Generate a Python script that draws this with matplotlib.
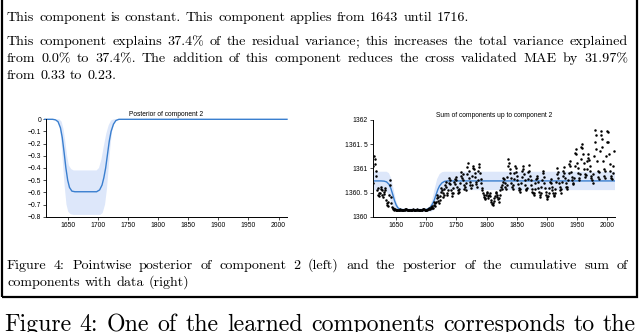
import numpy as np
import matplotlib
matplotlib.use('Agg')
import matplotlib.pyplot as plt
from matplotlib.patches import Rectangle

# ---- data ----
const_level = 1360.74

# posterior mean of component 2
comp_years = [1612, 1625, 1630, 1634, 1638, 1641, 1644, 1647, 1650, 1653, 1657, 1662,
              1698, 1703, 1707, 1710, 1713, 1716, 1719, 1722, 1726, 1730, 1735, 2014]
comp_mean = [0, 0, -0.005, -0.02, -0.07, -0.15, -0.27, -0.40, -0.50, -0.56, -0.59, -0.595,
             -0.595, -0.58, -0.54, -0.48, -0.40, -0.29, -0.18, -0.10, -0.04, -0.01, 0, 0]
# pointwise interval of component 2
comp_hi_years = [1612, 1636, 1640, 1643, 1646, 1649, 1652, 1656, 1660,
                 1698, 1702, 1706, 1710, 1714, 1718, 1722, 1727, 2014]
comp_hi = [0, 0, -0.02, -0.08, -0.18, -0.30, -0.38, -0.41, -0.42,
           -0.42, -0.40, -0.33, -0.22, -0.12, -0.05, -0.01, 0, 0]
comp_lo_years = [1612, 1632, 1636, 1639, 1642, 1645, 1648, 1651, 1655, 1660,
                 1704, 1708, 1712, 1715, 1718, 1721, 1724, 1728, 1733, 2014]
comp_lo = [0, 0, -0.04, -0.15, -0.35, -0.55, -0.70, -0.76, -0.78, -0.785,
           -0.785, -0.77, -0.70, -0.58, -0.40, -0.22, -0.09, -0.02, 0, 0]

# interval of the cumulative sum
sum_hi_years = [1611, 1634, 1638, 1642, 1646, 1650, 1654, 1658,
                1702, 1706, 1710, 1714, 1718, 1722, 1726, 1730, 2013]
sum_hi = [1360.93, 1360.93, 1360.90, 1360.78, 1360.55, 1360.32, 1360.20, 1360.17,
          1360.17, 1360.22, 1360.36, 1360.58, 1360.78, 1360.88, 1360.92, 1360.93, 1360.93]
sum_lo_years = [1611, 1630, 1634, 1638, 1642, 1646, 1650, 1655,
                1708, 1712, 1716, 1720, 1724, 1728, 1733, 2013]
sum_lo = [1360.55, 1360.55, 1360.52, 1360.43, 1360.28, 1360.16, 1360.11, 1360.10,
          1360.10, 1360.13, 1360.22, 1360.36, 1360.48, 1360.53, 1360.55, 1360.55]

# observed data (annual), 1611-2011
data_years = list(range(1611, 2012))
data_vals = [
    1360.70, 1361.05, 1361.25, 1361.20, 1361.10, 1360.95, 1360.85, 1360.55, 1360.45, 1360.60,
    1360.50, 1360.42, 1360.48, 1360.58, 1360.62, 1360.55, 1360.45, 1360.40, 1360.52, 1360.47,
    1360.60, 1360.55, 1360.35, 1360.28, 1360.25, 1360.30, 1360.22, 1360.45, 1360.75, 1360.65,
    1360.40, 1360.28, 1360.20, 1360.18, 1360.16, 1360.15, 1360.14, 1360.15, 1360.13, 1360.14,
    1360.13, 1360.14, 1360.13, 1360.13, 1360.14, 1360.15, 1360.14, 1360.13, 1360.13, 1360.14,
    1360.14, 1360.13, 1360.13, 1360.14, 1360.15, 1360.16, 1360.15, 1360.14, 1360.13, 1360.13,
    1360.13, 1360.13, 1360.14, 1360.14, 1360.13, 1360.13, 1360.14, 1360.15, 1360.14, 1360.13,
    1360.13, 1360.14, 1360.14, 1360.15, 1360.14, 1360.13, 1360.13, 1360.14, 1360.14, 1360.13,
    1360.13, 1360.13, 1360.14, 1360.15, 1360.16, 1360.15, 1360.14, 1360.13, 1360.13, 1360.14,
    1360.14, 1360.15, 1360.16, 1360.15, 1360.17, 1360.16, 1360.18, 1360.20, 1360.17, 1360.22,
    1360.19, 1360.24, 1360.30, 1360.28, 1360.22, 1360.30, 1360.38, 1360.45, 1360.40, 1360.33,
    1360.28, 1360.35, 1360.42, 1360.52, 1360.60, 1360.55, 1360.48, 1360.40, 1360.45, 1360.58,
    1360.66, 1360.72, 1360.62, 1360.50, 1360.45, 1360.55, 1360.70, 1360.80, 1360.75, 1360.68,
    1360.55, 1360.50, 1360.42, 1360.48, 1360.60, 1360.72, 1360.78, 1360.68, 1360.82, 1360.76,
    1360.62, 1360.55, 1360.48, 1360.52, 1360.58, 1360.70, 1360.85, 1360.92, 1360.80, 1360.88,
    1360.75, 1360.65, 1360.58, 1360.62, 1360.55, 1360.70, 1360.88, 1361.02, 1361.12, 1360.95,
    1360.80, 1360.72, 1360.65, 1360.60, 1360.66, 1360.85, 1361.00, 1361.05, 1360.98, 1360.90,
    1360.82, 1360.72, 1360.68, 1360.62, 1360.75, 1360.95, 1361.08, 1361.02, 1360.90, 1360.78,
    1360.70, 1360.60, 1360.55, 1360.48, 1360.45, 1360.40, 1360.38, 1360.36, 1360.45, 1360.52,
    1360.48, 1360.42, 1360.38, 1360.45, 1360.50, 1360.42, 1360.35, 1360.30, 1360.27, 1360.25,
    1360.28, 1360.33, 1360.38, 1360.42, 1360.48, 1360.52, 1360.45, 1360.40, 1360.36, 1360.30,
    1360.38, 1360.45, 1360.55, 1360.62, 1360.58, 1360.66, 1360.72, 1360.80, 1360.78, 1360.70,
    1360.62, 1360.58, 1360.66, 1360.82, 1361.05, 1361.20, 1361.12, 1360.98, 1360.90, 1360.80,
    1360.70, 1360.62, 1360.58, 1360.65, 1360.78, 1360.90, 1361.05, 1361.00, 1360.92, 1360.85,
    1360.75, 1360.68, 1360.60, 1360.55, 1360.52, 1360.58, 1360.70, 1360.82, 1360.95, 1361.05,
    1360.98, 1360.88, 1360.76, 1360.66, 1360.58, 1360.55, 1360.60, 1360.78, 1360.92, 1361.06,
    1360.95, 1360.85, 1360.76, 1360.66, 1360.58, 1360.52, 1360.48, 1360.45, 1360.50, 1360.58,
    1360.70, 1360.78, 1360.85, 1360.80, 1360.72, 1360.60, 1360.52, 1360.45, 1360.40, 1360.48,
    1360.62, 1360.75, 1360.90, 1360.95, 1360.82, 1360.70, 1360.60, 1360.52, 1360.45, 1360.40,
    1360.36, 1360.42, 1360.50, 1360.60, 1360.72, 1360.78, 1360.70, 1360.62, 1360.55, 1360.48,
    1360.45, 1360.42, 1360.48, 1360.58, 1360.72, 1360.88, 1361.00, 1360.92, 1360.80, 1360.70,
    1360.62, 1360.55, 1360.50, 1360.58, 1360.72, 1360.85, 1360.95, 1361.02, 1360.90, 1360.80,
    1360.70, 1360.62, 1360.58, 1360.62, 1360.75, 1360.90, 1361.08, 1361.15, 1361.05, 1360.92,
    1360.82, 1360.75, 1360.70, 1360.68, 1360.80, 1361.05, 1361.32, 1361.40, 1361.30, 1361.12,
    1361.00, 1360.90, 1360.80, 1360.75, 1360.88, 1361.20, 1361.45, 1361.50, 1361.42, 1361.30,
    1361.12, 1360.98, 1360.88, 1360.82, 1360.86, 1360.98, 1361.15, 1361.22, 1361.30, 1361.18,
    1361.05, 1360.95, 1360.85, 1360.80, 1360.75, 1360.70, 1360.88, 1361.25, 1361.55, 1361.80,
    1361.70, 1361.40, 1361.15, 1360.95, 1360.82, 1360.78, 1360.92, 1361.35, 1361.78, 1361.70,
    1361.60, 1361.45, 1361.15, 1360.98, 1360.85, 1360.80, 1360.95, 1361.25, 1361.55, 1361.78,
    1361.75, 1361.55, 1361.30, 1361.10, 1360.95, 1360.85, 1360.80, 1360.78, 1360.90, 1361.05,
    1361.35,
]

x_ticks = [1650, 1700, 1750, 1800, 1850, 1900, 1950, 2000]
comp_yticks = [0, -0.1, -0.2, -0.3, -0.4, -0.5, -0.6, -0.7, -0.8]
sum_yticks = [1360, 1360.5, 1361, 1361.5, 1362]
sum_yticklabels = ['1360', '1360. 5', '1361', '1361. 5', '1362']

text_line1 = "This component is constant. This component applies from 1643 until 1716."
text_par2 = ["This component explains 37.4% of the residual variance; this increases the total variance explained",
             "from 0.0% to 37.4%. The addition of this component reduces the cross validated MAE by 31.97%",
             "from 0.33 to 0.23."]
caption = ["Figure 4: Pointwise posterior of component 2 (left) and the posterior of the cumulative sum of",
           "components with data (right)"]
below_text = "Figure 4: One of the learned components corresponds to the"

# ---- figure ----
W, H = 640, 332
fig = plt.figure(figsize=(W / 100, H / 100), dpi=100)
renderer = fig.canvas.get_renderer()
SERIF = 'cmr10'

line_col = '#3a7fcf'
band_col = '#dde7fa'


def fx(px):
    return px / W


def fy(py):
    return 1 - py / H


def text_width(s, size):
    t = fig.text(0, 0, s, fontsize=size, family=SERIF)
    w = t.get_window_extent(renderer).width
    t.remove()
    return w


def natural_width(s, size):
    # word widths plus a normal (1/3 em) space between words
    words = s.split(' ')
    em = size * 100 / 72
    return sum(text_width(w, size) for w in words) + (len(words) - 1) * em / 3


def put_word(w, x, y, size):
    # a semicolon in cmr10 shifts the baseline, so draw it on its own
    if w.endswith(';'):
        fig.text(fx(x), fy(y), w[:-1], fontsize=size, family=SERIF, va='baseline')
        wd = text_width(w[:-1], size)
        fig.text(fx(x + wd), fy(y), ';', fontsize=size, family=SERIF, va='baseline')
    else:
        fig.text(fx(x), fy(y), w, fontsize=size, family=SERIF, va='baseline')


def put_line(s, x0, y, size, x1=None):
    words = s.split(' ')
    widths = [text_width(w, size) for w in words]
    em = size * 100 / 72
    if x1 is None:
        gap = em / 3
    else:
        gap = (x1 - x0 - sum(widths)) / (len(words) - 1)
    x = x0
    for w, wd in zip(words, widths):
        put_word(w, x, y, size)
        x += wd + gap


# text size fitted so that the justified lines only stretch a little
body_size = min(10 * (612 / natural_width(text_par2[0], 10)),
                10 * (612 / natural_width(caption[0], 10)))

fig.patches.append(Rectangle((fx(2), fy(297)), fx(635), 297 / H + 0.01,
                             transform=fig.transFigure, fill=False,
                             edgecolor='black', linewidth=1.6))

put_line(text_line1, 7, 21, body_size)
put_line(text_par2[0], 7, 45, body_size, x1=628)
put_line(text_par2[1], 7, 62, body_size, x1=628)
put_line(text_par2[2], 7, 79, body_size)
put_line(caption[0], 7, 269, body_size, x1=628)
put_line(caption[1], 7, 286, body_size)

big_size = 10 * (212 / natural_width("Figure 4: One of the", 10))
big_em = big_size * 100 / 72
put_line(below_text, 4, 315 + 0.69 * big_em, big_size, x1=636)

# ---- left: posterior of component 2 ----
axL = fig.add_axes([fx(46), fy(216.7), fx(287 - 46), (216.7 - 119.3) / H])
band_x = comp_hi_years + comp_lo_years[::-1]
band_y = comp_hi + comp_lo[::-1]
axL.fill(band_x, band_y, color=band_col, linewidth=0)
axL.plot(comp_years, comp_mean, color=line_col, linewidth=1.0, clip_on=False)
axL.set_xlim(1614, 2014)
axL.set_ylim(-0.8, 0)
axL.set_yticks(comp_yticks)
axL.set_yticklabels(['0'] + ['\u22120.%d' % i for i in range(1, 9)])
axL.set_title('Posterior of component 2', fontsize=4.8, pad=2.5, family='Liberation Sans')

# ---- right: sum of components with data ----
axR = fig.add_axes([fx(372.7), fy(216.7), fx(615 - 372.7), (216.7 - 120) / H])
sum_mean = [const_level + v for v in comp_mean]
axR.fill(sum_hi_years + sum_lo_years[::-1], sum_hi + sum_lo[::-1], color=band_col, linewidth=0)
axR.plot(comp_years, sum_mean, color=line_col, linewidth=1.0)
axR.plot(data_years, data_vals, linestyle='none', marker='.', markersize=1.6, color='black')
axR.set_xlim(1611, 2013)
axR.set_ylim(1360, 1362)
axR.set_yticks(sum_yticks)
axR.set_yticklabels(sum_yticklabels)
axR.set_title('Sum of components up to component 2', fontsize=4.8, pad=2.5, family='Liberation Sans')

for ax in (axL, axR):
    ax.set_xticks(x_ticks)
    for side in ('top', 'right'):
        ax.spines[side].set_visible(False)
    for side in ('left', 'bottom'):
        ax.spines[side].set_linewidth(0.7)
    ax.tick_params(labelsize=4.9, length=2, width=0.5, pad=1.5)
    for lab in ax.get_xticklabels() + ax.get_yticklabels():
        lab.set_family('Liberation Sans')

fig.savefig('out.png', dpi=100)
